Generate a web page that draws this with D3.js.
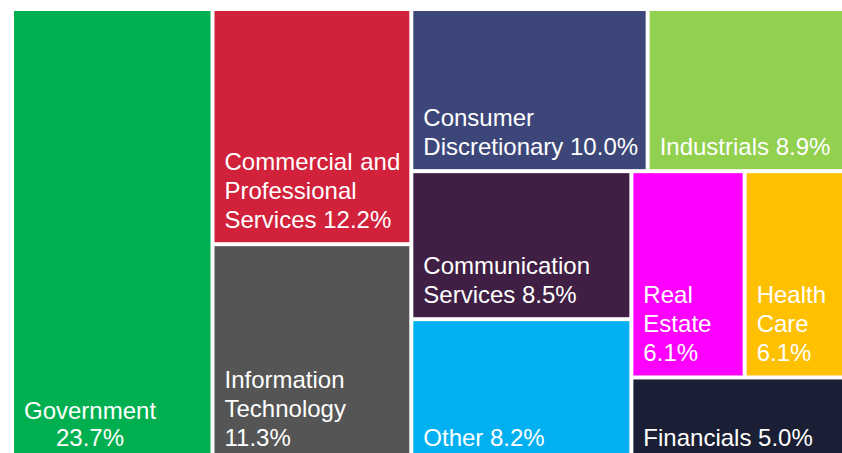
<!DOCTYPE html>
<html>
<head>
<meta charset="utf-8">
<script src="https://cdn.jsdelivr.net/npm/d3@7"></script>
<style>
  body { margin: 0; background: #fff; }
  svg { display: block; }
  text { font-family: "Liberation Sans", Arial, sans-serif; fill: #fff; font-size: 24px; }
</style>
</head>
<body>
<div id="chart"></div>
<script>
// sectors, their weights (%) and the colour of each box
const sectors = ["Government", "Commercial and Professional Services", "Information Technology",
  "Consumer Discretionary", "Industrials", "Communication Services", "Other",
  "Real Estate", "Health Care", "Financials"];
const weights = [23.7, 12.2, 11.3, 10.0, 8.9, 8.5, 8.2, 6.1, 6.1, 5.0];
const colors = ["#00b050", "#d1213b", "#555555", "#3d4679", "#92d050", "#3f1f44", "#00b0f0",
  "#ff00ff", "#ffc000", "#1b1f35"];
// label lines as printed in each box
const labelLines = [
  ["Government", "23.7%"],
  ["Commercial and", "Professional", "Services 12.2%"],
  ["Information", "Technology", "11.3%"],
  ["Consumer", "Discretionary 10.0%"],
  ["Industrials 8.9%"],
  ["Communication", "Services 8.5%"],
  ["Other 8.2%"],
  ["Real", "Estate", "6.1%"],
  ["Health", "Care", "6.1%"],
  ["Financials 5.0%"]
];

const width = 842, height = 453;
const margin = {left: 14, top: 11};
// the map runs past the right and bottom edges of the picture
const mapW = 842, mapH = 449;

// leaf node by index
const leaf = i => ({name: sectors[i], value: weights[i], i: i});

// nesting that reproduces the tiling of the original: "h" = side by side, "v" = stacked
const tree = {dir: "h", children: [
  leaf(0),
  {dir: "v", children: [leaf(1), leaf(2)]},
  {dir: "v", children: [
    {dir: "h", children: [leaf(3), leaf(4)]},
    {dir: "h", children: [
      {dir: "v", children: [leaf(5), leaf(6)]},
      {dir: "v", children: [
        {dir: "h", children: [leaf(7), leaf(8)]},
        leaf(9)
      ]}
    ]}
  ]}
]};

const tile = (node, x0, y0, x1, y1) => {
  if (node.data.dir === "h") d3.treemapDice(node, x0, y0, x1, y1);
  else d3.treemapSlice(node, x0, y0, x1, y1);
};

const root = d3.hierarchy(tree).sum(d => d.value || 0);
d3.treemap().size([mapW, mapH]).paddingInner(4).tile(tile).round(false)(root);

const svg = d3.select("#chart").append("svg")
  .attr("width", width)
  .attr("height", height);

const g = svg.append("g")
  .attr("transform", "translate(" + margin.left + "," + margin.top + ")");

const cells = g.selectAll(".cell")
  .data(root.leaves())
  .join("g")
  .attr("class", "cell")
  .attr("transform", d => "translate(" + d.x0 + "," + d.y0 + ")");

cells.append("rect")
  .attr("width", d => d.x1 - d.x0)
  .attr("height", d => d.y1 - d.y0)
  .attr("fill", d => colors[d.data.i]);

const lineH = 29;
cells.each(function(d) {
  const cell = d3.select(this);
  const lines = labelLines[d.data.i];
  const w = d.x1 - d.x0, h = d.y1 - d.y0;
  const base = h - 14 - (lines.length - 1) * lineH;

  if (d.data.i === 0) {
    // block of lines centred on the widest one, block starting at the left padding
    const probe = cell.append("text").text(lines[0]);
    const tw = probe.node().getComputedTextLength();
    probe.remove();
    lines.forEach((t, k) => {
      cell.append("text")
        .attr("x", 10 + tw / 2)
        .attr("y", h - 14 - (lines.length - 1 - k) * 27)
        .attr("text-anchor", "middle")
        .text(t);
    });
  } else {
    lines.forEach((t, k) => {
      if (d.data.i === 1 && k === 0) {
        // justified first line
        const words = t.split(" ");
        cell.append("text").attr("x", 10).attr("y", base).text(words[0]);
        cell.append("text").attr("x", w - 9).attr("y", base)
          .attr("text-anchor", "end").text(words[1]);
      } else {
        cell.append("text")
          .attr("x", 10)
          .attr("y", base + k * lineH)
          .text(t);
      }
    });
  }
});
</script>
</body>
</html>
